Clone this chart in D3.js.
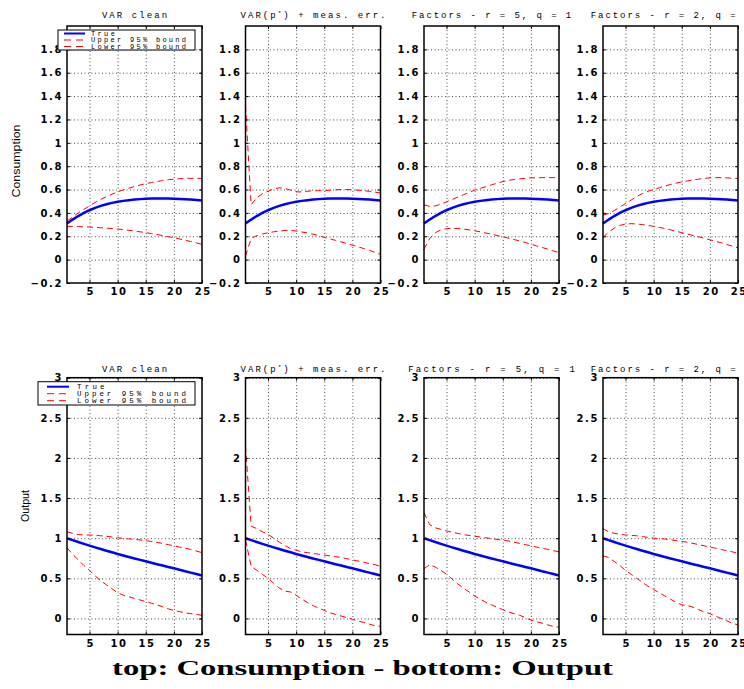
<!DOCTYPE html>
<html>
<head>
<meta charset="utf-8">
<script src="https://cdn.jsdelivr.net/npm/d3@7"></script>
<style>
  body { margin: 0; background: #fff; }
  svg { display: block; }
</style>
</head>
<body>
<script>
// horizons on the x axis
const horizons = [1,2,3,4,5,6,7,8,9,10,11,12,13,14,15,16,17,18,19,20,21,22,23,24,25];
const xTicks = [5, 10, 15, 20, 25];
const xTickLabels = ["5", "10", "15", "20", "25"];

const panelTitlesTop = ["VAR clean", "VAR(p*) + meas. err.", "Factors - r = 5, q = 1", "Factors - r = 2, q = 1"];
const panelTitlesBottom = ["VAR clean", "VAR(p*) + meas. err.", "Factors -  r = 5, q = 1", "Factors - r = 2, q = 1"];
const legendLabels = ["True", "Upper 95% bound", "Lower 95% bound"];

// Consumption (top row)
const consTicks = [-0.2, 0, 0.2, 0.4, 0.6, 0.8, 1, 1.2, 1.4, 1.6, 1.8];
const consTickLabels = ["\u22120.2", "0", "0.2", "0.4", "0.6", "0.8", "1", "1.2", "1.4", "1.6", "1.8"];
const consTrue = [0.310,0.343,0.373,0.400,0.423,0.443,0.460,0.474,0.486,0.495,0.503,0.509,0.514,0.518,0.521,0.523,0.524,0.524,0.523,0.522,0.520,0.517,0.514,0.510,0.506];
const consUpperVar = [0.33,0.365,0.40,0.43,0.46,0.49,0.515,0.54,0.56,0.58,0.597,0.612,0.626,0.639,0.65,0.66,0.669,0.677,0.684,0.689,0.693,0.695,0.696,0.696,0.696];
const consLowerVar = [0.285,0.284,0.283,0.281,0.279,0.276,0.273,0.27,0.266,0.262,0.257,0.251,0.245,0.238,0.231,0.223,0.215,0.206,0.197,0.187,0.177,0.166,0.155,0.143,0.13];
const consUpperMeas = [1.32,0.47,0.53,0.565,0.585,0.605,0.615,0.61,0.595,0.58,0.58,0.585,0.59,0.59,0.59,0.595,0.598,0.6,0.6,0.598,0.595,0.59,0.585,0.578,0.57];
const consLowerMeas = [0.03,0.18,0.205,0.22,0.23,0.238,0.245,0.25,0.25,0.245,0.237,0.228,0.218,0.205,0.19,0.178,0.165,0.152,0.138,0.124,0.11,0.095,0.08,0.062,0.045];
const consUpperF5 = [0.47,0.455,0.46,0.475,0.495,0.515,0.535,0.555,0.575,0.595,0.61,0.625,0.64,0.655,0.668,0.678,0.686,0.692,0.697,0.7,0.701,0.702,0.702,0.702,0.701];
const consLowerF5 = [0.09,0.18,0.23,0.255,0.265,0.268,0.266,0.262,0.255,0.247,0.238,0.228,0.218,0.207,0.196,0.184,0.172,0.16,0.147,0.132,0.118,0.104,0.09,0.075,0.06];
const consUpperF2 = [0.38,0.395,0.42,0.45,0.48,0.51,0.54,0.565,0.585,0.6,0.615,0.63,0.643,0.655,0.665,0.674,0.682,0.689,0.695,0.7,0.702,0.702,0.7,0.697,0.694];
const consLowerF2 = [0.19,0.235,0.27,0.293,0.305,0.308,0.305,0.3,0.293,0.285,0.276,0.266,0.255,0.243,0.231,0.219,0.207,0.195,0.183,0.17,0.157,0.144,0.13,0.115,0.1];

// Output (bottom row)
const outTicks = [0, 0.5, 1, 1.5, 2, 2.5, 3];
const outTickLabels = ["0", "0.5", "1", "1.5", "2", "2.5", "3"];
const outTrue = [1.000,0.976,0.953,0.930,0.908,0.886,0.865,0.844,0.824,0.804,0.785,0.766,0.748,0.730,0.712,0.694,0.676,0.659,0.642,0.625,0.607,0.589,0.571,0.553,0.535];
const outUpperVar = [1.08,1.06,1.045,1.04,1.04,1.035,1.03,1.025,1.015,1.005,0.998,0.992,0.985,0.978,0.97,0.96,0.948,0.935,0.92,0.905,0.89,0.875,0.86,0.84,0.82];
const outLowerVar = [0.88,0.8,0.73,0.66,0.6,0.53,0.47,0.42,0.37,0.32,0.29,0.27,0.25,0.23,0.21,0.19,0.17,0.145,0.12,0.1,0.085,0.07,0.06,0.05,0.04];
const outUpperMeas = [2.15,1.15,1.12,1.08,1.05,1.0,0.95,0.91,0.87,0.85,0.83,0.82,0.81,0.8,0.79,0.78,0.77,0.76,0.745,0.73,0.715,0.7,0.685,0.67,0.65];
const outLowerMeas = [0.98,0.65,0.6,0.55,0.5,0.44,0.38,0.34,0.33,0.29,0.24,0.2,0.16,0.13,0.1,0.07,0.05,0.03,0.01,-0.01,-0.03,-0.05,-0.07,-0.09,-0.1];
const outUpperF5 = [1.32,1.17,1.13,1.11,1.09,1.075,1.06,1.045,1.035,1.025,1.015,1.005,0.995,0.985,0.975,0.965,0.95,0.935,0.92,0.905,0.89,0.875,0.86,0.845,0.83];
const outLowerF5 = [0.62,0.67,0.64,0.6,0.55,0.49,0.43,0.38,0.33,0.28,0.24,0.2,0.17,0.14,0.11,0.08,0.06,0.04,0.01,-0.02,-0.04,-0.06,-0.08,-0.1,-0.11];
const outUpperF2 = [1.12,1.08,1.06,1.05,1.04,1.035,1.03,1.02,1.01,1.0,0.995,0.99,0.98,0.97,0.96,0.95,0.935,0.92,0.905,0.89,0.875,0.86,0.845,0.83,0.81];
const outLowerF2 = [0.78,0.76,0.71,0.66,0.6,0.55,0.5,0.45,0.4,0.36,0.32,0.28,0.24,0.2,0.17,0.16,0.14,0.11,0.08,0.06,0.03,0.0,-0.03,-0.06,-0.08];

// layout
const colLeft = [67, 245.5, 424, 603];
const plotW = 135;

const rows = [
  { top: 26, bottom: 283, domain: [-0.2, 2], ticks: consTicks, tickLabels: consTickLabels,
    titles: panelTitlesTop, titleY: 18, ylabel: "Consumption", ylabelX: 20, ylabelY: 161, ylabelLen: 73,
    legend: { x: 58, y: 30, w: 137, h: 20, rowY: [33.5, 40, 46.5], lineX: [64, 85], textX: 91, charW: 6.47, fs: 7 },
    series: [[consTrue, consUpperVar, consLowerVar], [consTrue, consUpperMeas, consLowerMeas],
             [consTrue, consUpperF5, consLowerF5], [consTrue, consUpperF2, consLowerF2]] },
  { top: 377.7, bottom: 634.5, domain: [-0.2, 3], ticks: outTicks, tickLabels: outTickLabels,
    titles: panelTitlesBottom, titleY: 372, ylabel: "Output", ylabelX: 28.5, ylabelY: 506, ylabelLen: 32,
    legend: { x: 38, y: 381.7, w: 157, h: 23.3, rowY: [386.7, 393.7, 400.7], lineX: [47, 69], textX: 77, charW: 7.4, fs: 7.5 },
    series: [[outTrue, outUpperVar, outLowerVar], [outTrue, outUpperMeas, outLowerMeas],
             [outTrue, outUpperF5, outLowerF5], [outTrue, outUpperF2, outLowerF2]] }
];

const svg = d3.select("body").append("svg")
  .attr("width", 744)
  .attr("height", 689);

const tickFont = "'DejaVu Sans', sans-serif";
const monoFont = "'Liberation Mono', 'DejaVu Sans Mono', monospace";

rows.forEach(row => {
  const y = d3.scaleLinear().domain(row.domain).range([row.bottom, row.top]);

  colLeft.forEach((left, c) => {
    const x = d3.scaleLinear().domain([1, 25]).range([left, left + plotW]);
    const g = svg.append("g");

    // dotted grid
    g.append("g")
      .attr("transform", `translate(${left},0)`)
      .call(d3.axisLeft(y).tickValues(row.ticks.filter(v => v > row.domain[0])).tickSize(-plotW).tickFormat(""))
      .call(a => a.select(".domain").remove())
      .selectAll("line")
      .attr("stroke", "#222").attr("stroke-width", 0.8).attr("stroke-dasharray", "1,2.5");

    g.append("g")
      .attr("transform", `translate(0,${row.bottom})`)
      .call(d3.axisBottom(x).tickValues(xTicks.slice(0, 4)).tickSize(-(row.bottom - row.top)).tickFormat(""))
      .call(a => a.select(".domain").remove())
      .selectAll("line")
      .attr("stroke", "#222").attr("stroke-width", 0.8).attr("stroke-dasharray", "1,2.5");

    // lines
    const line = d3.line().x((d, i) => x(horizons[i])).y(d => y(d));
    const [tr, up, lo] = row.series[c];
    g.append("path").datum(up).attr("d", line)
      .attr("fill", "none").attr("stroke", "#ff0000").attr("stroke-width", 1).attr("stroke-dasharray", "6,4");
    g.append("path").datum(lo).attr("d", line)
      .attr("fill", "none").attr("stroke", "#ff0000").attr("stroke-width", 1).attr("stroke-dasharray", "6,4");
    g.append("path").datum(tr).attr("d", line)
      .attr("fill", "none").attr("stroke", "#0000ff").attr("stroke-width", 2.5);

    // axes with inward ticks
    g.append("g")
      .attr("transform", `translate(${left},0)`)
      .call(d3.axisLeft(y).tickValues(row.ticks).tickSize(-3).tickPadding(4)
        .tickFormat((d, i) => row.tickLabels[i]));
    g.append("g")
      .attr("transform", `translate(${left + plotW},0)`)
      .call(d3.axisRight(y).tickValues(row.ticks).tickSize(-3).tickFormat(""));
    const xAxis = g.append("g")
      .attr("transform", `translate(0,${row.bottom})`)
      .call(d3.axisBottom(x).tickValues(xTicks).tickSize(-3).tickPadding(5)
        .tickFormat((d, i) => xTickLabels[i]));
    g.append("g")
      .attr("transform", `translate(0,${row.top})`)
      .call(d3.axisTop(x).tickValues(xTicks).tickSize(-3).tickFormat(""));

    g.selectAll(".domain").remove();
    g.selectAll(".tick text")
      .attr("fill", "#000")
      .style("font-family", tickFont)
      .style("font-weight", "bold")
      .style("font-size", "10px")
      .style("letter-spacing", "1.6px");
    xAxis.selectAll(".tick text").attr("dx", "0.8px");

    // frame
    g.append("rect")
      .attr("x", left).attr("y", row.top)
      .attr("width", plotW).attr("height", row.bottom - row.top)
      .attr("fill", "none").attr("stroke", "#000").attr("stroke-width", 1.5);

    // panel title
    const title = row.titles[c];
    const t = g.append("text")
      .attr("x", left + plotW / 2)
      .attr("y", row.titleY)
      .attr("text-anchor", "middle")
      .style("font-family", monoFont)
      .style("font-size", "9px")
      .attr("textLength", title.length * 7.25)
      .attr("lengthAdjust", "spacing");
    if (title.indexOf("*") >= 0) {
      const parts = title.split("*");
      t.append("tspan").text(parts[0]);
      t.append("tspan").attr("dy", -3).style("font-size", "6px").text("*");
      t.append("tspan").attr("dy", 3).text(parts[1]);
    } else {
      t.text(title);
    }
  });

  // y label
  svg.append("text")
    .attr("transform", `translate(${row.ylabelX},${row.ylabelY}) rotate(-90)`)
    .attr("text-anchor", "middle")
    .attr("textLength", row.ylabelLen)
    .attr("lengthAdjust", "spacingAndGlyphs")
    .style("font-family", "'Liberation Sans', Arial, sans-serif")
    .style("font-size", "11px")
    .text(row.ylabel);

  // legend
  const L = row.legend;
  const lg = svg.append("g");
  lg.append("rect")
    .attr("x", L.x).attr("y", L.y).attr("width", L.w).attr("height", L.h)
    .attr("fill", "#fff").attr("stroke", "#000").attr("stroke-width", 1);
  legendLabels.forEach((lab, i) => {
    lg.append("line")
      .attr("x1", L.lineX[0]).attr("x2", L.lineX[1])
      .attr("y1", L.rowY[i]).attr("y2", L.rowY[i])
      .attr("stroke", i === 0 ? "#0000ff" : "#ff0000")
      .attr("stroke-width", i === 0 ? 2 : 1)
      .attr("stroke-dasharray", i === 0 ? null : "7,5");
    lg.append("text")
      .attr("x", L.textX).attr("y", L.rowY[i] + 2.3)
      .attr("textLength", lab.length * L.charW - 2)
      .attr("lengthAdjust", "spacing")
      .style("font-family", monoFont)
      .style("font-size", L.fs + "px")
      .text(lab);
  });
});

// caption
svg.append("text")
  .attr("x", 112)
  .attr("y", 675)
  .attr("textLength", 501)
  .attr("lengthAdjust", "spacingAndGlyphs")
  .style("font-family", "'Liberation Serif', 'DejaVu Serif', serif")
  .style("font-weight", "bold")
  .style("font-size", "20px")
  .text("top: Consumption - bottom: Output");
</script>
</body>
</html>
